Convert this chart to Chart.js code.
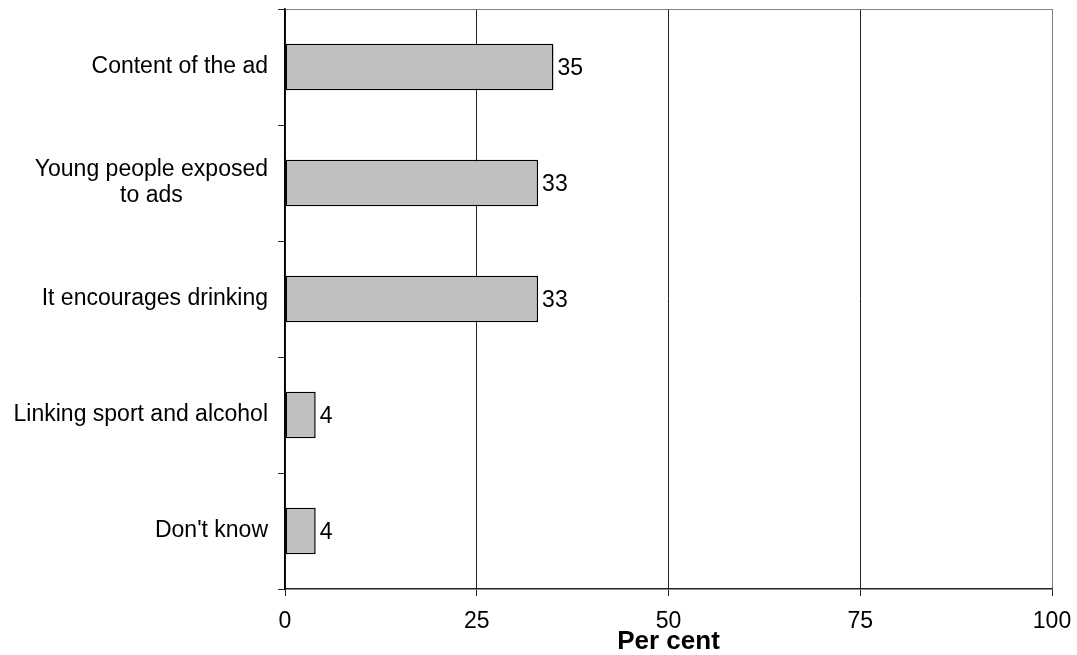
<!DOCTYPE html>
<html>
<head>
<meta charset="utf-8">
<script src="https://cdn.jsdelivr.net/npm/chart.js@4"></script>
<style>
  html, body { margin: 0; padding: 0; background: #fff; }
  #wrap { width: 1077px; height: 655px; }
</style>
</head>
<body>
<div id="wrap"><canvas id="grafico"></canvas></div>
<script>
const categorias = [
    'Content of the ad',
    ['Young people exposed', 'to ads'],
    'It encourages drinking',
    'Linking sport and alcohol',
    "Don't know"
];
const valores = [35, 33, 33, 4, 4];
const ticksX = [0, 25, 50, 75, 100];

const fonte = "'Liberation Sans', Arial, sans-serif";

// rotulos do eixo y: bloco alinhado a direita, linhas centradas entre si (estilo Excel)
const rotulosY = {
    id: 'rotulosY',
    afterDraw(chart) {
        const ctx = chart.ctx;
        const y = chart.scales.y;
        const xRight = y.right - 17;
        const lh = 26;
        ctx.save();
        ctx.font = '23px ' + fonte;
        ctx.fillStyle = '#000';
        ctx.textBaseline = 'middle';
        ctx.textAlign = 'center';
        categorias.forEach((cat, i) => {
            const linhas = Array.isArray(cat) ? cat : [cat];
            const larg = Math.max(...linhas.map(l => ctx.measureText(l).width));
            const cy = y.getPixelForValue(i);
            const y0 = cy - (linhas.length - 1) * lh / 2;
            linhas.forEach((l, k) => {
                ctx.fillText(l, xRight - larg / 2, y0 + k * lh);
            });
        });
        ctx.restore();
    }
};

// valores no fim de cada barra
const rotulosValor = {
    id: 'rotulosValor',
    afterDatasetsDraw(chart) {
        const ctx = chart.ctx;
        const meta = chart.getDatasetMeta(0);
        ctx.save();
        ctx.font = '23px ' + fonte;
        ctx.fillStyle = '#000';
        ctx.textBaseline = 'middle';
        ctx.textAlign = 'left';
        meta.data.forEach((bar, i) => {
            ctx.fillText(String(valores[i]), bar.x + 4, bar.y + 2);
        });
        ctx.restore();
    }
};

new Chart(document.getElementById('grafico').getContext('2d'), {
    type: 'bar',
    data: {
        labels: categorias,
        datasets: [{
            data: valores,
            backgroundColor: '#c0c0c0',
            borderColor: '#000',
            borderWidth: 1.5,
            borderSkipped: false,
            categoryPercentage: 1,
            barPercentage: 0.4
        }]
    },
    options: {
        indexAxis: 'y',
        responsive: true,
        maintainAspectRatio: false,
        animation: false,
        layout: {
            padding: { top: 9, right: 25, left: 0, bottom: 0 }
        },
        scales: {
            x: {
                min: 0,
                max: 100,
                afterBuildTicks(scale) {
                    scale.ticks = ticksX.map(v => ({ value: v }));
                },
                afterFit(scale) {
                    scale.height = 66;
                    scale.paddingRight = 0;
                    scale.paddingLeft = 0;
                },
                border: { color: '#222', width: 1.5 },
                grid: {
                    color: c => (c.tick && c.tick.value === 100) ? '#808080' : '#222',
                    lineWidth: 1,
                    tickLength: 7,
                    tickColor: '#222'
                },
                ticks: {
                    color: '#000',
                    padding: 12,
                    maxRotation: 0,
                    font: { size: 23, family: fonte }
                },
                title: {
                    display: true,
                    text: 'Per cent',
                    color: '#000',
                    padding: { top: 0, bottom: 0 },
                    font: { size: 26, weight: 'bold', family: fonte, lineHeight: 1 }
                }
            },
            y: {
                afterFit(scale) { scale.width = 285; },
                border: { color: '#000', width: 1.5 },
                grid: {
                    offset: true,
                    color: c => c.index === 0 ? '#808080' : 'rgba(0,0,0,0)',
                    lineWidth: 1,
                    tickLength: 7,
                    tickColor: '#222'
                },
                ticks: {
                    display: false
                }
            }
        },
        plugins: {
            legend: { display: false },
            tooltip: { enabled: false }
        }
    },
    plugins: [rotulosY, rotulosValor]
});
</script>
</body>
</html>
